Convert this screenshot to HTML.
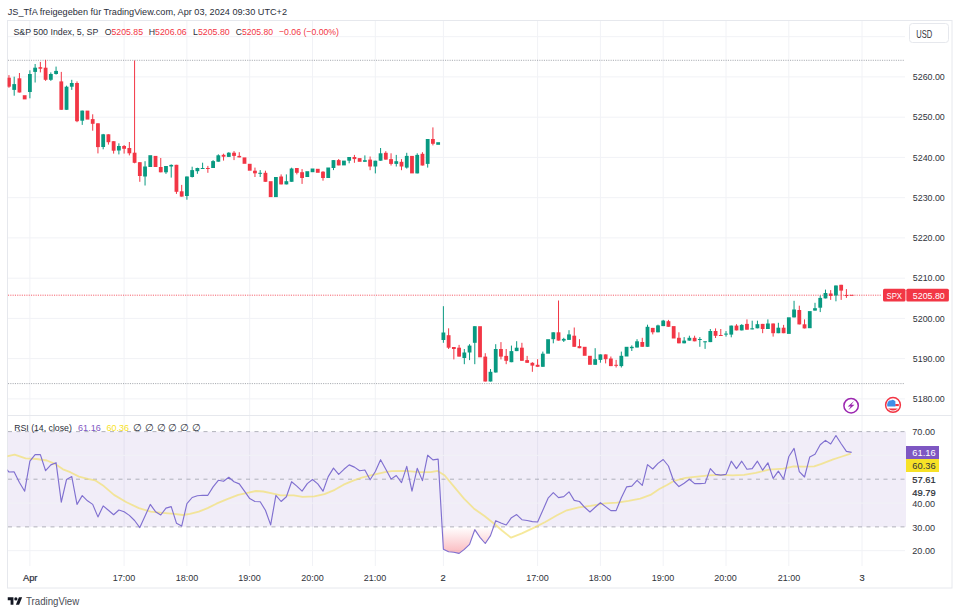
<!DOCTYPE html>
<html><head><meta charset="utf-8"><style>
html,body{margin:0;padding:0;background:#fff;width:960px;height:615px;overflow:hidden;}
svg text{font-family:"Liberation Sans", sans-serif;}
</style></head><body>
<svg width="960" height="615" viewBox="0 0 960 615" style="position:absolute;left:0;top:0">
<defs><linearGradient id="pk" x1="0" y1="527" x2="0" y2="556" gradientUnits="userSpaceOnUse"><stop offset="0" stop-color="#F23645" stop-opacity="0"/><stop offset="1" stop-color="#F23645" stop-opacity="0.38"/></linearGradient>
<clipPath id="cp"><rect x="7.5" y="20.5" width="898" height="545"/></clipPath>
<clipPath id="cpr"><rect x="7.5" y="416" width="898" height="150"/></clipPath>
<clipPath id="cpb"><rect x="7.5" y="527" width="898" height="40"/></clipPath>
</defs>
<rect x="0" y="0" width="960" height="615" fill="#ffffff"/>
<line x1="8" y1="398.9" x2="905" y2="398.9" stroke="#f1f2f6" stroke-width="1"/>
<line x1="8" y1="358.6" x2="905" y2="358.6" stroke="#f1f2f6" stroke-width="1"/>
<line x1="8" y1="318.4" x2="905" y2="318.4" stroke="#f1f2f6" stroke-width="1"/>
<line x1="8" y1="278.2" x2="905" y2="278.2" stroke="#f1f2f6" stroke-width="1"/>
<line x1="8" y1="237.9" x2="905" y2="237.9" stroke="#f1f2f6" stroke-width="1"/>
<line x1="8" y1="197.7" x2="905" y2="197.7" stroke="#f1f2f6" stroke-width="1"/>
<line x1="8" y1="157.4" x2="905" y2="157.4" stroke="#f1f2f6" stroke-width="1"/>
<line x1="8" y1="117.2" x2="905" y2="117.2" stroke="#f1f2f6" stroke-width="1"/>
<line x1="8" y1="76.9" x2="905" y2="76.9" stroke="#f1f2f6" stroke-width="1"/>
<line x1="8" y1="36.7" x2="905" y2="36.7" stroke="#f1f2f6" stroke-width="1"/>
<line x1="29.9" y1="21" x2="29.9" y2="566" stroke="#f1f2f6" stroke-width="1"/>
<line x1="124.1" y1="21" x2="124.1" y2="566" stroke="#f1f2f6" stroke-width="1"/>
<line x1="186.9" y1="21" x2="186.9" y2="566" stroke="#f1f2f6" stroke-width="1"/>
<line x1="249.7" y1="21" x2="249.7" y2="566" stroke="#f1f2f6" stroke-width="1"/>
<line x1="312.5" y1="21" x2="312.5" y2="566" stroke="#f1f2f6" stroke-width="1"/>
<line x1="375.3" y1="21" x2="375.3" y2="566" stroke="#f1f2f6" stroke-width="1"/>
<line x1="443.4" y1="21" x2="443.4" y2="566" stroke="#f1f2f6" stroke-width="1"/>
<line x1="537.6" y1="21" x2="537.6" y2="566" stroke="#f1f2f6" stroke-width="1"/>
<line x1="600.4" y1="21" x2="600.4" y2="566" stroke="#f1f2f6" stroke-width="1"/>
<line x1="663.2" y1="21" x2="663.2" y2="566" stroke="#f1f2f6" stroke-width="1"/>
<line x1="726.0" y1="21" x2="726.0" y2="566" stroke="#f1f2f6" stroke-width="1"/>
<line x1="788.8" y1="21" x2="788.8" y2="566" stroke="#f1f2f6" stroke-width="1"/>
<line x1="862.0" y1="21" x2="862.0" y2="566" stroke="#f1f2f6" stroke-width="1"/>
<rect x="8" y="431.6" width="898" height="95.3" fill="#7E57C2" fill-opacity="0.11"/>
<line x1="8" y1="455.4" x2="905" y2="455.4" stroke="#f1f2f6" stroke-width="1"/>
<line x1="8" y1="503.1" x2="905" y2="503.1" stroke="#f1f2f6" stroke-width="1"/>
<line x1="8" y1="550.7" x2="905" y2="550.7" stroke="#f1f2f6" stroke-width="1"/>
<rect x="7.5" y="20.5" width="944.5" height="567.5" fill="none" stroke="#e6e8ed" stroke-width="1"/>
<line x1="8" y1="415.5" x2="952" y2="415.5" stroke="#e6e8ed" stroke-width="1"/>
<line x1="8" y1="60.3" x2="905" y2="60.3" stroke="#8a8d96" stroke-opacity="0.75" stroke-width="1" stroke-dasharray="1.1 1.2"/>
<line x1="8" y1="383.6" x2="905" y2="383.6" stroke="#8a8d96" stroke-opacity="0.75" stroke-width="1" stroke-dasharray="1.1 1.2"/>
<line x1="8" y1="295.2" x2="882" y2="295.2" stroke="#F23645" stroke-opacity="0.8" stroke-width="1" stroke-dasharray="1.1 1.2"/>
<g clip-path="url(#cp)">
<line x1="8.96" y1="75.1" x2="8.96" y2="87.8" stroke="#F23645" stroke-width="1"/>
<rect x="7.06" y="77.7" width="3.8" height="9.0" fill="#F23645"/>
<line x1="14.20" y1="76.7" x2="14.20" y2="95.7" stroke="#089981" stroke-width="1"/>
<rect x="12.30" y="84.1" width="3.8" height="5.8" fill="#089981"/>
<line x1="19.43" y1="73.0" x2="19.43" y2="92.5" stroke="#F23645" stroke-width="1"/>
<rect x="17.53" y="78.3" width="3.8" height="14.2" fill="#F23645"/>
<rect x="22.77" y="95.2" width="3.8" height="4.2" fill="#F23645"/>
<line x1="29.90" y1="70.3" x2="29.90" y2="98.3" stroke="#089981" stroke-width="1"/>
<rect x="28.00" y="74.0" width="3.8" height="18.0" fill="#089981"/>
<line x1="35.13" y1="64.0" x2="35.13" y2="82.5" stroke="#089981" stroke-width="1"/>
<rect x="33.23" y="67.7" width="3.8" height="4.2" fill="#089981"/>
<line x1="40.37" y1="61.9" x2="40.37" y2="72.4" stroke="#F23645" stroke-width="1"/>
<rect x="38.47" y="67.2" width="3.8" height="1.5" fill="#F23645"/>
<line x1="45.60" y1="59.8" x2="45.60" y2="80.9" stroke="#F23645" stroke-width="1"/>
<rect x="43.70" y="67.7" width="3.8" height="12.1" fill="#F23645"/>
<line x1="50.84" y1="72.4" x2="50.84" y2="80.9" stroke="#089981" stroke-width="1"/>
<rect x="48.94" y="74.0" width="3.8" height="5.8" fill="#089981"/>
<line x1="56.07" y1="66.6" x2="56.07" y2="74.6" stroke="#089981" stroke-width="1"/>
<rect x="54.17" y="70.9" width="3.8" height="3.1" fill="#089981"/>
<line x1="61.30" y1="71.9" x2="61.30" y2="109.8" stroke="#F23645" stroke-width="1"/>
<rect x="59.40" y="81.4" width="3.8" height="28.4" fill="#F23645"/>
<line x1="66.54" y1="85.7" x2="66.54" y2="109.8" stroke="#089981" stroke-width="1"/>
<rect x="64.64" y="86.7" width="3.8" height="23.1" fill="#089981"/>
<line x1="71.77" y1="79.8" x2="71.77" y2="89.9" stroke="#089981" stroke-width="1"/>
<rect x="69.87" y="83.0" width="3.8" height="3.7" fill="#089981"/>
<line x1="77.01" y1="81.4" x2="77.01" y2="122.2" stroke="#F23645" stroke-width="1"/>
<rect x="75.11" y="83.0" width="3.8" height="38.2" fill="#F23645"/>
<line x1="82.24" y1="110.6" x2="82.24" y2="124.9" stroke="#089981" stroke-width="1"/>
<rect x="80.34" y="110.6" width="3.8" height="10.1" fill="#089981"/>
<rect x="85.57" y="110.6" width="3.8" height="9.0" fill="#F23645"/>
<line x1="92.71" y1="114.3" x2="92.71" y2="130.7" stroke="#F23645" stroke-width="1"/>
<rect x="90.81" y="119.1" width="3.8" height="4.7" fill="#F23645"/>
<line x1="97.94" y1="123.3" x2="97.94" y2="153.4" stroke="#F23645" stroke-width="1"/>
<rect x="96.04" y="123.3" width="3.8" height="23.8" fill="#F23645"/>
<line x1="103.18" y1="133.9" x2="103.18" y2="149.3" stroke="#089981" stroke-width="1"/>
<rect x="101.28" y="134.3" width="3.8" height="12.7" fill="#089981"/>
<line x1="108.41" y1="134.3" x2="108.41" y2="144.6" stroke="#F23645" stroke-width="1"/>
<rect x="106.51" y="134.3" width="3.8" height="7.9" fill="#F23645"/>
<line x1="113.64" y1="141.2" x2="113.64" y2="153.6" stroke="#F23645" stroke-width="1"/>
<rect x="111.74" y="141.2" width="3.8" height="9.5" fill="#F23645"/>
<line x1="118.88" y1="143.3" x2="118.88" y2="154.4" stroke="#089981" stroke-width="1"/>
<rect x="116.98" y="146.0" width="3.8" height="4.5" fill="#089981"/>
<line x1="124.11" y1="145.0" x2="124.11" y2="153.6" stroke="#F23645" stroke-width="1"/>
<rect x="122.21" y="146.0" width="3.8" height="2.8" fill="#F23645"/>
<line x1="129.35" y1="142.0" x2="129.35" y2="155.4" stroke="#F23645" stroke-width="1"/>
<rect x="127.45" y="148.0" width="3.8" height="5.3" fill="#F23645"/>
<line x1="134.58" y1="60.5" x2="134.58" y2="163.3" stroke="#F23645" stroke-width="1"/>
<rect x="132.68" y="152.7" width="3.8" height="10.1" fill="#F23645"/>
<line x1="139.81" y1="162.2" x2="139.81" y2="181.8" stroke="#F23645" stroke-width="1"/>
<rect x="137.91" y="162.2" width="3.8" height="13.8" fill="#F23645"/>
<line x1="145.05" y1="161.2" x2="145.05" y2="185.5" stroke="#089981" stroke-width="1"/>
<rect x="143.15" y="166.5" width="3.8" height="10.0" fill="#089981"/>
<rect x="148.38" y="155.2" width="3.8" height="11.8" fill="#089981"/>
<rect x="153.62" y="155.9" width="3.8" height="11.1" fill="#F23645"/>
<line x1="160.75" y1="158.0" x2="160.75" y2="172.3" stroke="#F23645" stroke-width="1"/>
<rect x="158.85" y="167.0" width="3.8" height="5.3" fill="#F23645"/>
<line x1="165.98" y1="166.0" x2="165.98" y2="173.9" stroke="#089981" stroke-width="1"/>
<rect x="164.08" y="166.0" width="3.8" height="6.3" fill="#089981"/>
<line x1="171.22" y1="164.4" x2="171.22" y2="177.6" stroke="#089981" stroke-width="1"/>
<rect x="169.32" y="164.9" width="3.8" height="1.6" fill="#089981"/>
<line x1="176.45" y1="164.8" x2="176.45" y2="193.9" stroke="#F23645" stroke-width="1"/>
<rect x="174.55" y="164.8" width="3.8" height="27.0" fill="#F23645"/>
<line x1="181.69" y1="184.9" x2="181.69" y2="196.6" stroke="#F23645" stroke-width="1"/>
<rect x="179.79" y="191.3" width="3.8" height="5.3" fill="#F23645"/>
<line x1="186.92" y1="176.5" x2="186.92" y2="199.7" stroke="#089981" stroke-width="1"/>
<rect x="185.02" y="176.5" width="3.8" height="19.5" fill="#089981"/>
<line x1="192.15" y1="166.7" x2="192.15" y2="177.5" stroke="#089981" stroke-width="1"/>
<rect x="190.25" y="170.1" width="3.8" height="6.9" fill="#089981"/>
<line x1="197.39" y1="167.7" x2="197.39" y2="173.8" stroke="#089981" stroke-width="1"/>
<rect x="195.49" y="168.0" width="3.8" height="3.2" fill="#089981"/>
<line x1="202.62" y1="162.7" x2="202.62" y2="168.8" stroke="#089981" stroke-width="1"/>
<rect x="200.72" y="168.0" width="3.8" height="1.0" fill="#089981"/>
<line x1="207.86" y1="165.9" x2="207.86" y2="172.8" stroke="#F23645" stroke-width="1"/>
<rect x="205.96" y="168.0" width="3.8" height="1.0" fill="#F23645"/>
<line x1="213.09" y1="160.1" x2="213.09" y2="168.0" stroke="#089981" stroke-width="1"/>
<rect x="211.19" y="161.1" width="3.8" height="6.9" fill="#089981"/>
<line x1="218.32" y1="154.3" x2="218.32" y2="161.7" stroke="#089981" stroke-width="1"/>
<rect x="216.42" y="155.3" width="3.8" height="6.4" fill="#089981"/>
<line x1="223.56" y1="153.7" x2="223.56" y2="160.6" stroke="#F23645" stroke-width="1"/>
<rect x="221.66" y="154.8" width="3.8" height="1.9" fill="#F23645"/>
<line x1="228.79" y1="152.2" x2="228.79" y2="156.9" stroke="#089981" stroke-width="1"/>
<rect x="226.89" y="152.7" width="3.8" height="4.2" fill="#089981"/>
<line x1="234.03" y1="151.1" x2="234.03" y2="160.1" stroke="#F23645" stroke-width="1"/>
<rect x="232.13" y="152.7" width="3.8" height="3.2" fill="#F23645"/>
<line x1="239.26" y1="152.2" x2="239.26" y2="157.4" stroke="#F23645" stroke-width="1"/>
<rect x="237.36" y="155.9" width="3.8" height="1.5" fill="#F23645"/>
<rect x="242.59" y="157.4" width="3.8" height="6.4" fill="#F23645"/>
<rect x="247.83" y="163.8" width="3.8" height="6.9" fill="#F23645"/>
<line x1="254.96" y1="167.6" x2="254.96" y2="177.0" stroke="#F23645" stroke-width="1"/>
<rect x="253.06" y="170.7" width="3.8" height="2.6" fill="#F23645"/>
<line x1="260.20" y1="170.1" x2="260.20" y2="177.0" stroke="#089981" stroke-width="1"/>
<rect x="258.30" y="172.8" width="3.8" height="1.0" fill="#089981"/>
<line x1="265.43" y1="170.7" x2="265.43" y2="181.8" stroke="#F23645" stroke-width="1"/>
<rect x="263.53" y="172.8" width="3.8" height="9.0" fill="#F23645"/>
<rect x="268.76" y="181.2" width="3.8" height="15.9" fill="#F23645"/>
<rect x="274.00" y="177.0" width="3.8" height="20.1" fill="#089981"/>
<line x1="281.13" y1="174.4" x2="281.13" y2="184.4" stroke="#F23645" stroke-width="1"/>
<rect x="279.23" y="176.5" width="3.8" height="7.9" fill="#F23645"/>
<line x1="286.37" y1="174.4" x2="286.37" y2="184.4" stroke="#089981" stroke-width="1"/>
<rect x="284.47" y="181.2" width="3.8" height="3.2" fill="#089981"/>
<line x1="291.60" y1="167.7" x2="291.60" y2="181.8" stroke="#089981" stroke-width="1"/>
<rect x="289.70" y="168.5" width="3.8" height="13.3" fill="#089981"/>
<line x1="296.83" y1="168.0" x2="296.83" y2="174.4" stroke="#F23645" stroke-width="1"/>
<rect x="294.93" y="168.0" width="3.8" height="4.8" fill="#F23645"/>
<line x1="302.07" y1="169.1" x2="302.07" y2="183.9" stroke="#F23645" stroke-width="1"/>
<rect x="300.17" y="172.2" width="3.8" height="5.8" fill="#F23645"/>
<rect x="305.40" y="171.2" width="3.8" height="5.8" fill="#089981"/>
<rect x="310.64" y="168.5" width="3.8" height="3.7" fill="#089981"/>
<rect x="315.87" y="168.8" width="3.8" height="4.0" fill="#F23645"/>
<line x1="323.00" y1="171.2" x2="323.00" y2="180.7" stroke="#F23645" stroke-width="1"/>
<rect x="321.10" y="171.7" width="3.8" height="6.3" fill="#F23645"/>
<rect x="326.34" y="167.5" width="3.8" height="10.5" fill="#089981"/>
<line x1="333.47" y1="160.1" x2="333.47" y2="170.1" stroke="#089981" stroke-width="1"/>
<rect x="331.57" y="160.1" width="3.8" height="7.9" fill="#089981"/>
<line x1="338.71" y1="159.0" x2="338.71" y2="165.4" stroke="#F23645" stroke-width="1"/>
<rect x="336.81" y="160.1" width="3.8" height="5.3" fill="#F23645"/>
<rect x="342.04" y="160.6" width="3.8" height="4.8" fill="#089981"/>
<line x1="349.17" y1="157.0" x2="349.17" y2="163.3" stroke="#089981" stroke-width="1"/>
<rect x="347.27" y="157.0" width="3.8" height="3.7" fill="#089981"/>
<line x1="354.41" y1="154.9" x2="354.41" y2="162.8" stroke="#F23645" stroke-width="1"/>
<rect x="352.51" y="157.0" width="3.8" height="2.1" fill="#F23645"/>
<rect x="357.74" y="158.1" width="3.8" height="3.7" fill="#F23645"/>
<line x1="364.88" y1="155.4" x2="364.88" y2="161.8" stroke="#089981" stroke-width="1"/>
<rect x="362.98" y="160.2" width="3.8" height="1.6" fill="#089981"/>
<line x1="370.11" y1="156.5" x2="370.11" y2="170.2" stroke="#F23645" stroke-width="1"/>
<rect x="368.21" y="159.6" width="3.8" height="6.9" fill="#F23645"/>
<line x1="375.34" y1="160.7" x2="375.34" y2="173.4" stroke="#089981" stroke-width="1"/>
<rect x="373.44" y="160.7" width="3.8" height="5.8" fill="#089981"/>
<line x1="380.58" y1="148.0" x2="380.58" y2="160.7" stroke="#089981" stroke-width="1"/>
<rect x="378.68" y="153.3" width="3.8" height="7.4" fill="#089981"/>
<line x1="385.81" y1="151.2" x2="385.81" y2="159.6" stroke="#F23645" stroke-width="1"/>
<rect x="383.91" y="152.8" width="3.8" height="6.8" fill="#F23645"/>
<line x1="391.05" y1="153.3" x2="391.05" y2="165.5" stroke="#F23645" stroke-width="1"/>
<rect x="389.15" y="159.1" width="3.8" height="4.8" fill="#F23645"/>
<line x1="396.28" y1="154.9" x2="396.28" y2="166.5" stroke="#089981" stroke-width="1"/>
<rect x="394.38" y="161.2" width="3.8" height="2.7" fill="#089981"/>
<line x1="401.51" y1="159.1" x2="401.51" y2="170.2" stroke="#F23645" stroke-width="1"/>
<rect x="399.61" y="161.8" width="3.8" height="4.7" fill="#F23645"/>
<line x1="406.75" y1="152.8" x2="406.75" y2="168.6" stroke="#089981" stroke-width="1"/>
<rect x="404.85" y="155.9" width="3.8" height="11.7" fill="#089981"/>
<rect x="410.08" y="155.9" width="3.8" height="17.5" fill="#F23645"/>
<line x1="417.22" y1="153.3" x2="417.22" y2="173.4" stroke="#089981" stroke-width="1"/>
<rect x="415.32" y="154.9" width="3.8" height="18.5" fill="#089981"/>
<line x1="422.45" y1="152.2" x2="422.45" y2="165.5" stroke="#F23645" stroke-width="1"/>
<rect x="420.55" y="153.8" width="3.8" height="11.7" fill="#F23645"/>
<line x1="427.68" y1="139.0" x2="427.68" y2="167.6" stroke="#089981" stroke-width="1"/>
<rect x="425.78" y="139.0" width="3.8" height="24.9" fill="#089981"/>
<line x1="432.92" y1="127.4" x2="432.92" y2="145.4" stroke="#F23645" stroke-width="1"/>
<rect x="431.02" y="139.0" width="3.8" height="4.8" fill="#F23645"/>
<rect x="436.25" y="142.2" width="3.8" height="2.6" fill="#089981"/>
<line x1="443.39" y1="306.2" x2="443.39" y2="342.8" stroke="#089981" stroke-width="1"/>
<rect x="441.49" y="332.5" width="3.8" height="7.5" fill="#089981"/>
<line x1="448.62" y1="328.3" x2="448.62" y2="349.0" stroke="#F23645" stroke-width="1"/>
<rect x="446.72" y="335.2" width="3.8" height="12.5" fill="#F23645"/>
<line x1="453.85" y1="347.0" x2="453.85" y2="359.4" stroke="#F23645" stroke-width="1"/>
<rect x="451.95" y="347.0" width="3.8" height="2.0" fill="#F23645"/>
<line x1="459.09" y1="344.9" x2="459.09" y2="356.6" stroke="#F23645" stroke-width="1"/>
<rect x="457.19" y="347.7" width="3.8" height="8.9" fill="#F23645"/>
<line x1="464.32" y1="349.0" x2="464.32" y2="364.2" stroke="#089981" stroke-width="1"/>
<rect x="462.42" y="352.5" width="3.8" height="5.5" fill="#089981"/>
<line x1="469.56" y1="344.2" x2="469.56" y2="360.1" stroke="#089981" stroke-width="1"/>
<rect x="467.66" y="345.6" width="3.8" height="6.9" fill="#089981"/>
<line x1="474.79" y1="326.2" x2="474.79" y2="364.2" stroke="#089981" stroke-width="1"/>
<rect x="472.89" y="326.2" width="3.8" height="16.6" fill="#089981"/>
<rect x="478.12" y="326.2" width="3.8" height="31.1" fill="#F23645"/>
<line x1="485.26" y1="353.2" x2="485.26" y2="381.5" stroke="#F23645" stroke-width="1"/>
<rect x="483.36" y="356.6" width="3.8" height="24.9" fill="#F23645"/>
<line x1="490.49" y1="369.0" x2="490.49" y2="381.5" stroke="#089981" stroke-width="1"/>
<rect x="488.59" y="371.8" width="3.8" height="9.7" fill="#089981"/>
<line x1="495.73" y1="344.2" x2="495.73" y2="372.5" stroke="#089981" stroke-width="1"/>
<rect x="493.83" y="349.0" width="3.8" height="23.5" fill="#089981"/>
<line x1="500.96" y1="342.1" x2="500.96" y2="359.4" stroke="#F23645" stroke-width="1"/>
<rect x="499.06" y="349.0" width="3.8" height="7.6" fill="#F23645"/>
<line x1="506.19" y1="349.0" x2="506.19" y2="364.2" stroke="#F23645" stroke-width="1"/>
<rect x="504.29" y="355.9" width="3.8" height="4.9" fill="#F23645"/>
<line x1="511.43" y1="345.6" x2="511.43" y2="362.2" stroke="#089981" stroke-width="1"/>
<rect x="509.53" y="351.1" width="3.8" height="11.1" fill="#089981"/>
<line x1="516.66" y1="341.2" x2="516.66" y2="351.1" stroke="#089981" stroke-width="1"/>
<rect x="514.76" y="347.7" width="3.8" height="3.4" fill="#089981"/>
<line x1="521.90" y1="342.8" x2="521.90" y2="360.8" stroke="#F23645" stroke-width="1"/>
<rect x="520.00" y="347.7" width="3.8" height="13.1" fill="#F23645"/>
<line x1="527.13" y1="355.9" x2="527.13" y2="362.8" stroke="#F23645" stroke-width="1"/>
<rect x="525.23" y="360.1" width="3.8" height="2.7" fill="#F23645"/>
<line x1="532.36" y1="362.2" x2="532.36" y2="371.8" stroke="#F23645" stroke-width="1"/>
<rect x="530.46" y="362.8" width="3.8" height="2.8" fill="#F23645"/>
<line x1="537.60" y1="359.2" x2="537.60" y2="366.8" stroke="#F23645" stroke-width="1"/>
<rect x="535.70" y="364.8" width="3.8" height="2.0" fill="#F23645"/>
<line x1="542.83" y1="351.6" x2="542.83" y2="366.8" stroke="#089981" stroke-width="1"/>
<rect x="540.93" y="353.7" width="3.8" height="13.1" fill="#089981"/>
<rect x="546.17" y="339.2" width="3.8" height="14.5" fill="#089981"/>
<line x1="553.30" y1="332.3" x2="553.30" y2="343.3" stroke="#089981" stroke-width="1"/>
<rect x="551.40" y="332.3" width="3.8" height="6.9" fill="#089981"/>
<line x1="558.53" y1="300.5" x2="558.53" y2="340.6" stroke="#F23645" stroke-width="1"/>
<rect x="556.63" y="332.3" width="3.8" height="8.3" fill="#F23645"/>
<line x1="563.77" y1="337.8" x2="563.77" y2="342.0" stroke="#089981" stroke-width="1"/>
<rect x="561.87" y="338.9" width="3.8" height="1.7" fill="#089981"/>
<line x1="569.00" y1="330.2" x2="569.00" y2="339.9" stroke="#089981" stroke-width="1"/>
<rect x="567.10" y="334.4" width="3.8" height="5.5" fill="#089981"/>
<line x1="574.24" y1="327.5" x2="574.24" y2="346.8" stroke="#F23645" stroke-width="1"/>
<rect x="572.34" y="335.7" width="3.8" height="11.1" fill="#F23645"/>
<line x1="579.47" y1="339.2" x2="579.47" y2="348.2" stroke="#F23645" stroke-width="1"/>
<rect x="577.57" y="346.1" width="3.8" height="2.1" fill="#F23645"/>
<rect x="582.80" y="346.8" width="3.8" height="9.0" fill="#F23645"/>
<rect x="588.04" y="355.8" width="3.8" height="9.0" fill="#F23645"/>
<line x1="595.17" y1="348.2" x2="595.17" y2="364.8" stroke="#089981" stroke-width="1"/>
<rect x="593.27" y="359.2" width="3.8" height="5.6" fill="#089981"/>
<line x1="600.41" y1="354.4" x2="600.41" y2="362.7" stroke="#089981" stroke-width="1"/>
<rect x="598.51" y="354.4" width="3.8" height="5.5" fill="#089981"/>
<line x1="605.64" y1="354.4" x2="605.64" y2="363.4" stroke="#F23645" stroke-width="1"/>
<rect x="603.74" y="354.4" width="3.8" height="4.8" fill="#F23645"/>
<line x1="610.87" y1="356.5" x2="610.87" y2="366.1" stroke="#F23645" stroke-width="1"/>
<rect x="608.97" y="358.5" width="3.8" height="7.6" fill="#F23645"/>
<line x1="616.11" y1="359.9" x2="616.11" y2="367.5" stroke="#F23645" stroke-width="1"/>
<rect x="614.21" y="364.8" width="3.8" height="1.0" fill="#F23645"/>
<line x1="621.34" y1="351.6" x2="621.34" y2="367.5" stroke="#089981" stroke-width="1"/>
<rect x="619.44" y="355.8" width="3.8" height="10.3" fill="#089981"/>
<rect x="624.68" y="346.8" width="3.8" height="9.7" fill="#089981"/>
<line x1="631.81" y1="345.4" x2="631.81" y2="351.0" stroke="#089981" stroke-width="1"/>
<rect x="629.91" y="346.8" width="3.8" height="1.4" fill="#089981"/>
<line x1="637.04" y1="339.2" x2="637.04" y2="347.5" stroke="#089981" stroke-width="1"/>
<rect x="635.14" y="341.3" width="3.8" height="6.2" fill="#089981"/>
<line x1="642.28" y1="337.8" x2="642.28" y2="346.8" stroke="#F23645" stroke-width="1"/>
<rect x="640.38" y="342.0" width="3.8" height="4.8" fill="#F23645"/>
<line x1="647.51" y1="324.7" x2="647.51" y2="346.8" stroke="#089981" stroke-width="1"/>
<rect x="645.61" y="326.8" width="3.8" height="20.0" fill="#089981"/>
<line x1="652.75" y1="327.9" x2="652.75" y2="334.4" stroke="#F23645" stroke-width="1"/>
<rect x="650.85" y="327.9" width="3.8" height="4.4" fill="#F23645"/>
<line x1="657.98" y1="324.7" x2="657.98" y2="332.3" stroke="#089981" stroke-width="1"/>
<rect x="656.08" y="325.4" width="3.8" height="6.9" fill="#089981"/>
<line x1="663.21" y1="319.9" x2="663.21" y2="326.1" stroke="#089981" stroke-width="1"/>
<rect x="661.31" y="320.6" width="3.8" height="5.5" fill="#089981"/>
<line x1="668.45" y1="319.9" x2="668.45" y2="326.8" stroke="#F23645" stroke-width="1"/>
<rect x="666.55" y="321.2" width="3.8" height="5.6" fill="#F23645"/>
<rect x="671.78" y="326.1" width="3.8" height="12.4" fill="#F23645"/>
<line x1="678.92" y1="332.3" x2="678.92" y2="343.3" stroke="#F23645" stroke-width="1"/>
<rect x="677.02" y="337.8" width="3.8" height="5.5" fill="#F23645"/>
<line x1="684.15" y1="337.1" x2="684.15" y2="343.3" stroke="#089981" stroke-width="1"/>
<rect x="682.25" y="340.6" width="3.8" height="2.7" fill="#089981"/>
<line x1="689.38" y1="335.7" x2="689.38" y2="340.6" stroke="#089981" stroke-width="1"/>
<rect x="687.48" y="337.8" width="3.8" height="2.8" fill="#089981"/>
<line x1="694.62" y1="335.7" x2="694.62" y2="341.3" stroke="#F23645" stroke-width="1"/>
<rect x="692.72" y="337.8" width="3.8" height="3.5" fill="#F23645"/>
<line x1="699.85" y1="337.1" x2="699.85" y2="346.8" stroke="#089981" stroke-width="1"/>
<rect x="697.95" y="339.0" width="3.8" height="1.0" fill="#089981"/>
<line x1="705.09" y1="341.3" x2="705.09" y2="348.9" stroke="#089981" stroke-width="1"/>
<rect x="703.19" y="341.3" width="3.8" height="1.0" fill="#089981"/>
<line x1="710.32" y1="329.0" x2="710.32" y2="342.1" stroke="#089981" stroke-width="1"/>
<rect x="708.42" y="331.0" width="3.8" height="11.1" fill="#089981"/>
<line x1="715.55" y1="328.4" x2="715.55" y2="338.0" stroke="#F23645" stroke-width="1"/>
<rect x="713.65" y="331.0" width="3.8" height="4.8" fill="#F23645"/>
<line x1="720.79" y1="329.0" x2="720.79" y2="335.7" stroke="#F23645" stroke-width="1"/>
<rect x="718.89" y="335.0" width="3.8" height="1.0" fill="#F23645"/>
<line x1="726.02" y1="331.1" x2="726.02" y2="336.6" stroke="#089981" stroke-width="1"/>
<rect x="724.12" y="333.6" width="3.8" height="1.0" fill="#089981"/>
<line x1="731.26" y1="325.6" x2="731.26" y2="337.3" stroke="#089981" stroke-width="1"/>
<rect x="729.36" y="325.6" width="3.8" height="9.0" fill="#089981"/>
<line x1="736.49" y1="324.2" x2="736.49" y2="330.4" stroke="#F23645" stroke-width="1"/>
<rect x="734.59" y="325.6" width="3.8" height="4.8" fill="#F23645"/>
<line x1="741.72" y1="324.2" x2="741.72" y2="330.4" stroke="#089981" stroke-width="1"/>
<rect x="739.82" y="324.9" width="3.8" height="5.5" fill="#089981"/>
<line x1="746.96" y1="319.4" x2="746.96" y2="329.7" stroke="#F23645" stroke-width="1"/>
<rect x="745.06" y="323.9" width="3.8" height="5.8" fill="#F23645"/>
<line x1="752.19" y1="320.7" x2="752.19" y2="329.4" stroke="#089981" stroke-width="1"/>
<rect x="750.29" y="328.3" width="3.8" height="1.1" fill="#089981"/>
<line x1="757.43" y1="320.7" x2="757.43" y2="328.3" stroke="#089981" stroke-width="1"/>
<rect x="755.53" y="324.2" width="3.8" height="4.1" fill="#089981"/>
<line x1="762.66" y1="323.9" x2="762.66" y2="333.2" stroke="#F23645" stroke-width="1"/>
<rect x="760.76" y="323.9" width="3.8" height="5.1" fill="#F23645"/>
<line x1="767.89" y1="319.4" x2="767.89" y2="329.0" stroke="#089981" stroke-width="1"/>
<rect x="765.99" y="323.5" width="3.8" height="5.5" fill="#089981"/>
<line x1="773.13" y1="323.5" x2="773.13" y2="336.6" stroke="#F23645" stroke-width="1"/>
<rect x="771.23" y="323.5" width="3.8" height="9.7" fill="#F23645"/>
<line x1="778.36" y1="322.8" x2="778.36" y2="333.2" stroke="#089981" stroke-width="1"/>
<rect x="776.46" y="327.7" width="3.8" height="5.5" fill="#089981"/>
<line x1="783.60" y1="324.9" x2="783.60" y2="333.2" stroke="#F23645" stroke-width="1"/>
<rect x="781.70" y="327.7" width="3.8" height="5.5" fill="#F23645"/>
<rect x="786.93" y="317.3" width="3.8" height="16.6" fill="#089981"/>
<line x1="794.06" y1="300.8" x2="794.06" y2="317.4" stroke="#089981" stroke-width="1"/>
<rect x="792.16" y="309.5" width="3.8" height="7.9" fill="#089981"/>
<line x1="799.30" y1="305.7" x2="799.30" y2="324.4" stroke="#F23645" stroke-width="1"/>
<rect x="797.40" y="310.0" width="3.8" height="14.4" fill="#F23645"/>
<line x1="804.53" y1="319.4" x2="804.53" y2="328.4" stroke="#F23645" stroke-width="1"/>
<rect x="802.63" y="324.3" width="3.8" height="4.1" fill="#F23645"/>
<rect x="807.87" y="311.1" width="3.8" height="17.1" fill="#089981"/>
<line x1="815.00" y1="302.8" x2="815.00" y2="310.6" stroke="#089981" stroke-width="1"/>
<rect x="813.10" y="308.2" width="3.8" height="2.4" fill="#089981"/>
<line x1="820.23" y1="295.5" x2="820.23" y2="312.1" stroke="#089981" stroke-width="1"/>
<rect x="818.33" y="297.9" width="3.8" height="9.8" fill="#089981"/>
<line x1="825.47" y1="289.6" x2="825.47" y2="298.4" stroke="#089981" stroke-width="1"/>
<rect x="823.57" y="293.0" width="3.8" height="5.4" fill="#089981"/>
<line x1="830.70" y1="290.1" x2="830.70" y2="299.9" stroke="#F23645" stroke-width="1"/>
<rect x="828.80" y="293.5" width="3.8" height="2.5" fill="#F23645"/>
<line x1="835.94" y1="285.5" x2="835.94" y2="301.3" stroke="#089981" stroke-width="1"/>
<rect x="834.04" y="285.5" width="3.8" height="10.0" fill="#089981"/>
<line x1="841.17" y1="284.8" x2="841.17" y2="299.9" stroke="#F23645" stroke-width="1"/>
<rect x="839.27" y="284.8" width="3.8" height="5.8" fill="#F23645"/>
<line x1="846.40" y1="289.1" x2="846.40" y2="297.9" stroke="#F23645" stroke-width="1"/>
<rect x="844.50" y="295.0" width="3.8" height="1.0" fill="#F23645"/>
<rect x="849.74" y="294.8" width="3.8" height="1.0" fill="#F23645"/>
</g>
<line x1="8" y1="431.6" x2="906" y2="431.6" stroke="#787B86" stroke-opacity="0.55" stroke-width="1" stroke-dasharray="4 4.5"/>
<line x1="8" y1="479.2" x2="906" y2="479.2" stroke="#787B86" stroke-opacity="0.55" stroke-width="1" stroke-dasharray="4 4.5"/>
<line x1="8" y1="526.9" x2="906" y2="526.9" stroke="#787B86" stroke-opacity="0.55" stroke-width="1" stroke-dasharray="4 4.5"/>
<g clip-path="url(#cpb)">
<polygon points="432.92,527 432.92,459.90 438.15,459.10 443.39,549.20 448.62,551.80 453.85,552.30 459.09,553.40 464.32,549.40 469.56,544.40 474.79,529.70 480.02,537.30 485.26,543.50 490.49,535.60 495.73,520.70 495.73,527" fill="url(#pk)"/>
</g>
<g clip-path="url(#cpr)">
<polyline points="3.00,457.00 8.00,456.10 14.60,454.60 25.60,458.30 36.60,459.00 46.90,460.50 55.60,464.20 63.00,469.30 70.30,472.20 79.00,476.60 87.80,478.80 95.00,480.30 103.80,486.10 114.00,494.90 126.50,502.20 138.90,508.10 150.60,511.70 162.40,512.90 174.10,513.90 182.80,515.00 190.00,513.90 198.80,511.70 207.60,508.10 216.40,503.70 226.60,499.30 238.30,494.90 248.60,492.70 255.90,491.00 263.20,491.50 272.00,493.40 280.80,495.30 293.80,495.30 302.60,496.80 314.30,496.40 324.50,494.20 334.80,489.80 343.60,484.70 353.80,480.30 362.60,477.30 372.80,474.80 385.00,472.20 391.70,471.20 405.40,470.90 419.00,472.20 430.80,472.20 437.60,470.90 444.50,475.20 454.20,486.90 464.00,498.60 473.75,508.40 484.80,516.20 494.50,524.00 502.30,530.80 511.10,537.70 521.90,533.40 533.60,527.90 545.30,522.00 557.00,515.20 566.80,510.30 578.80,507.30 590.50,505.90 605.10,503.30 616.90,502.70 628.60,500.80 640.30,498.60 650.50,494.90 659.30,489.00 667.00,485.00 673.80,481.00 685.50,477.80 697.20,476.60 708.90,475.40 720.60,474.80 732.30,475.40 744.00,474.80 755.80,472.90 768.80,469.70 783.40,468.60 793.70,466.30 803.90,466.70 814.20,466.30 821.50,463.80 833.20,459.40 842.00,456.50 850.80,453.60" fill="none" stroke="#F2E070" stroke-opacity="0.7" stroke-width="1.8" stroke-linejoin="round"/>
<polyline points="3.73,466.00 8.96,472.00 14.20,471.90 19.43,482.50 24.67,491.20 29.90,461.20 35.13,454.60 40.37,454.60 45.60,470.70 50.84,464.90 56.07,462.70 61.30,502.20 66.54,479.50 71.77,476.60 77.01,504.40 82.24,495.60 87.47,500.80 92.71,504.40 97.94,516.90 103.18,505.90 108.41,510.30 113.64,514.70 118.88,510.00 124.11,511.70 129.35,515.40 134.58,520.50 139.81,527.60 145.05,516.10 150.28,504.40 155.52,511.70 160.75,515.00 165.98,508.10 171.22,506.60 176.45,523.20 181.69,526.10 186.92,503.70 192.15,497.50 197.39,495.80 202.62,495.30 207.86,495.30 213.09,486.90 218.32,480.30 223.56,481.30 228.79,477.30 234.03,481.70 239.26,483.90 244.49,491.20 249.73,498.60 254.96,501.50 260.20,501.80 265.43,510.30 270.66,524.90 275.90,495.30 281.13,501.50 286.37,496.80 291.60,481.70 296.83,486.10 302.07,491.20 307.30,483.60 312.54,479.50 317.77,483.90 323.00,491.20 328.24,476.60 333.47,468.10 338.71,474.40 343.94,469.30 349.17,464.90 354.41,467.10 359.64,470.70 364.88,470.00 370.11,479.80 375.34,471.50 380.58,459.70 385.81,469.30 391.05,479.10 396.28,475.50 401.51,482.60 406.75,466.40 411.98,491.20 417.22,468.30 422.45,480.60 427.68,455.20 432.92,459.90 438.15,459.10 443.39,549.20 448.62,551.80 453.85,552.30 459.09,553.40 464.32,549.40 469.56,544.40 474.79,529.70 480.02,537.30 485.26,543.50 490.49,535.60 495.73,520.70 500.96,523.00 506.19,525.00 511.43,517.70 516.66,514.60 521.90,519.70 527.13,520.50 532.36,521.60 537.60,522.00 542.83,510.30 548.07,498.20 553.30,492.70 558.53,497.60 563.77,496.60 569.00,491.80 574.24,500.40 579.47,501.50 584.70,507.30 589.94,512.00 595.17,507.30 600.41,502.70 605.64,506.60 610.87,510.60 616.11,510.60 621.34,497.80 626.58,486.90 631.81,486.10 637.04,480.30 642.28,485.40 647.51,464.60 652.75,469.00 657.98,463.40 663.21,459.50 668.45,466.00 673.68,481.00 678.92,486.60 684.15,483.20 689.38,479.20 694.62,483.60 699.85,483.60 705.09,483.20 710.32,468.60 715.55,474.40 720.79,475.10 726.02,474.40 731.26,461.20 736.49,468.60 741.72,461.20 746.96,469.30 752.19,468.60 757.43,461.20 762.66,470.20 767.89,462.80 773.13,478.40 778.36,471.10 783.60,479.20 788.83,456.50 794.06,448.40 799.30,471.60 804.53,477.00 809.77,456.90 815.00,454.30 820.23,444.80 825.47,440.40 830.70,444.00 835.94,435.50 841.17,443.70 846.40,451.40 851.64,452.40" fill="none" stroke="#8070D0" stroke-width="1.15" stroke-linejoin="round"/>
</g>
<text x="7.80" y="14.60" font-size="9.3" font-weight="normal" fill="#2a2e39" textLength="279.20" lengthAdjust="spacingAndGlyphs" >JS_TfA freigegeben für TradingView.com, Apr 03, 2024 09:30 UTC+2</text>
<text x="13.50" y="35.40" font-size="9.3" font-weight="normal" fill="#2a2e39" textLength="84.80" lengthAdjust="spacingAndGlyphs" >S&amp;P 500 Index, 5, SP</text>
<text x="104.70" y="35.4" font-size="9.3" fill="#2a2e39" textLength="38.30" lengthAdjust="spacingAndGlyphs">O<tspan fill="#F23645">5205.85</tspan></text>
<text x="148.80" y="35.4" font-size="9.3" fill="#2a2e39" textLength="37.90" lengthAdjust="spacingAndGlyphs">H<tspan fill="#F23645">5206.06</tspan></text>
<text x="193.00" y="35.4" font-size="9.3" fill="#2a2e39" textLength="36.70" lengthAdjust="spacingAndGlyphs">L<tspan fill="#F23645">5205.80</tspan></text>
<text x="235.80" y="35.4" font-size="9.3" fill="#2a2e39" textLength="37.20" lengthAdjust="spacingAndGlyphs">C<tspan fill="#F23645">5205.80</tspan></text>
<text x="279.00" y="35.40" font-size="9.3" font-weight="normal" fill="#F23645" textLength="60.00" lengthAdjust="spacingAndGlyphs" >−0.06 (−0.00%)</text>
<rect x="909.5" y="23.5" width="39" height="19" rx="3" fill="#fff" stroke="#e6e8ed" stroke-width="1"/>
<text x="916.20" y="38.00" font-size="10.2" font-weight="normal" fill="#30333b" textLength="16.00" lengthAdjust="spacingAndGlyphs" >USD</text>
<text x="912.80" y="402.20" font-size="9.4" font-weight="normal" fill="#30333b" textLength="32.00" lengthAdjust="spacingAndGlyphs" >5180.00</text>
<text x="912.80" y="361.95" font-size="9.4" font-weight="normal" fill="#30333b" textLength="32.00" lengthAdjust="spacingAndGlyphs" >5190.00</text>
<text x="912.80" y="321.70" font-size="9.4" font-weight="normal" fill="#30333b" textLength="32.00" lengthAdjust="spacingAndGlyphs" >5200.00</text>
<text x="912.80" y="281.45" font-size="9.4" font-weight="normal" fill="#30333b" textLength="32.00" lengthAdjust="spacingAndGlyphs" >5210.00</text>
<text x="912.80" y="241.20" font-size="9.4" font-weight="normal" fill="#30333b" textLength="32.00" lengthAdjust="spacingAndGlyphs" >5220.00</text>
<text x="912.80" y="200.95" font-size="9.4" font-weight="normal" fill="#30333b" textLength="32.00" lengthAdjust="spacingAndGlyphs" >5230.00</text>
<text x="912.80" y="160.70" font-size="9.4" font-weight="normal" fill="#30333b" textLength="32.00" lengthAdjust="spacingAndGlyphs" >5240.00</text>
<text x="912.80" y="120.45" font-size="9.4" font-weight="normal" fill="#30333b" textLength="32.00" lengthAdjust="spacingAndGlyphs" >5250.00</text>
<text x="912.80" y="80.20" font-size="9.4" font-weight="normal" fill="#30333b" textLength="32.00" lengthAdjust="spacingAndGlyphs" >5260.00</text>
<rect x="883" y="288.8" width="22.5" height="12.6" rx="1.5" fill="#F23645"/>
<rect x="906.3" y="288.8" width="42.6" height="12.6" rx="1.5" fill="#F23645"/>
<text x="886.50" y="298.60" font-size="9.4" font-weight="normal" fill="#ffffff" textLength="15.50" lengthAdjust="spacingAndGlyphs" >SPX</text>
<text x="912.80" y="298.60" font-size="9.4" font-weight="normal" fill="#ffffff" textLength="32.00" lengthAdjust="spacingAndGlyphs" >5205.80</text>
<text x="912.30" y="435.20" font-size="9.4" font-weight="normal" fill="#30333b" textLength="22.70" lengthAdjust="spacingAndGlyphs" >70.00</text>
<rect x="906" y="446" width="33" height="13" fill="#7E57C2"/>
<text x="912.30" y="456.20" font-size="9.4" font-weight="normal" fill="#ffffff" textLength="23.40" lengthAdjust="spacingAndGlyphs" >61.16</text>
<rect x="906" y="459" width="33" height="13" fill="#F7E227"/>
<text x="912.30" y="469.20" font-size="9.4" font-weight="normal" fill="#30333b" textLength="23.40" lengthAdjust="spacingAndGlyphs" >60.36</text>
<text x="912.30" y="483.00" font-size="9.4" font-weight="normal" fill="#30333b" textLength="23.40" lengthAdjust="spacingAndGlyphs" stroke="#131722" stroke-width="0.2">57.61</text>
<text x="912.30" y="495.50" font-size="9.4" font-weight="normal" fill="#30333b" textLength="23.40" lengthAdjust="spacingAndGlyphs" stroke="#131722" stroke-width="0.2">49.79</text>
<text x="912.30" y="507.20" font-size="9.4" font-weight="normal" fill="#30333b" textLength="22.70" lengthAdjust="spacingAndGlyphs" >40.00</text>
<text x="912.30" y="530.60" font-size="9.4" font-weight="normal" fill="#30333b" textLength="22.70" lengthAdjust="spacingAndGlyphs" >30.00</text>
<text x="912.30" y="554.20" font-size="9.4" font-weight="normal" fill="#30333b" textLength="22.70" lengthAdjust="spacingAndGlyphs" >20.00</text>
<text x="14.20" y="431.20" font-size="9.5" font-weight="normal" fill="#2a2e39" textLength="57.60" lengthAdjust="spacingAndGlyphs" >RSI (14, close)</text>
<text x="78.10" y="431.20" font-size="9.5" font-weight="normal" fill="#7E57C2" textLength="22.60" lengthAdjust="spacingAndGlyphs" >61.16</text>
<text x="106.60" y="431.20" font-size="9.5" font-weight="normal" fill="#F7E227" textLength="22.50" lengthAdjust="spacingAndGlyphs" >60.36</text>
<text x="137.2" y="431.2" font-size="9.5" fill="#2a2e39" text-anchor="middle">∅</text>
<text x="149.5" y="431.2" font-size="9.5" fill="#2a2e39" text-anchor="middle">∅</text>
<text x="161.3" y="431.2" font-size="9.5" fill="#2a2e39" text-anchor="middle">∅</text>
<text x="172.9" y="431.2" font-size="9.5" fill="#2a2e39" text-anchor="middle">∅</text>
<text x="184.5" y="431.2" font-size="9.5" fill="#2a2e39" text-anchor="middle">∅</text>
<text x="196.5" y="431.2" font-size="9.5" fill="#2a2e39" text-anchor="middle">∅</text>
<text x="22.90" y="580.50" font-size="9.3" font-weight="normal" fill="#2a2e39" textLength="14.60" lengthAdjust="spacingAndGlyphs" stroke="#2a2e39" stroke-width="0.2">Apr</text>
<text x="112.75" y="580.70" font-size="9.3" font-weight="normal" fill="#30333b" textLength="22.50" lengthAdjust="spacingAndGlyphs" >17:00</text>
<text x="175.75" y="580.70" font-size="9.3" font-weight="normal" fill="#30333b" textLength="22.50" lengthAdjust="spacingAndGlyphs" >18:00</text>
<text x="238.25" y="580.70" font-size="9.3" font-weight="normal" fill="#30333b" textLength="22.50" lengthAdjust="spacingAndGlyphs" >19:00</text>
<text x="301.25" y="580.70" font-size="9.3" font-weight="normal" fill="#30333b" textLength="22.50" lengthAdjust="spacingAndGlyphs" >20:00</text>
<text x="363.75" y="580.70" font-size="9.3" font-weight="normal" fill="#30333b" textLength="22.50" lengthAdjust="spacingAndGlyphs" >21:00</text>
<text x="443.2" y="580.7" font-size="9.3" fill="#30333b" stroke="#30333b" stroke-width="0.15" text-anchor="middle">2</text>
<text x="526.25" y="580.70" font-size="9.3" font-weight="normal" fill="#30333b" textLength="22.50" lengthAdjust="spacingAndGlyphs" >17:00</text>
<text x="588.75" y="580.70" font-size="9.3" font-weight="normal" fill="#30333b" textLength="22.50" lengthAdjust="spacingAndGlyphs" >18:00</text>
<text x="651.75" y="580.70" font-size="9.3" font-weight="normal" fill="#30333b" textLength="22.50" lengthAdjust="spacingAndGlyphs" >19:00</text>
<text x="714.25" y="580.70" font-size="9.3" font-weight="normal" fill="#30333b" textLength="22.50" lengthAdjust="spacingAndGlyphs" >20:00</text>
<text x="777.75" y="580.70" font-size="9.3" font-weight="normal" fill="#30333b" textLength="22.50" lengthAdjust="spacingAndGlyphs" >21:00</text>
<text x="862.0" y="580.7" font-size="9.3" fill="#30333b" stroke="#30333b" stroke-width="0.15" text-anchor="middle">3</text>
<g transform="translate(851.1,405.7)"><circle r="7.2" fill="#fff" stroke="#9C27B0" stroke-width="1.5"/><path d="M2.9,-4.8 L-3.4,0.8 L-0.3,0.8 L-2.8,4.6 L3.4,-1 L0.3,-1 Z" fill="#9C27B0"/></g>
<g transform="translate(893,404.9)"><circle r="7.4" fill="#fff" stroke="#F23645" stroke-width="1.5"/><clipPath id="fc"><circle r="5.9"/></clipPath><g clip-path="url(#fc)"><rect x="-6" y="-6" width="12" height="12" fill="#fff"/><rect x="2.2" y="-0.9" width="4" height="2.1" fill="#F23645"/><rect x="-6" y="3.6" width="12" height="2.2" fill="#F23645"/><path d="M-6,1.6 L-6,-3 Q-4,-5.2 -2,-4.4 Q0,-6.2 2.4,-3.6 L2.4,1.6 Z" fill="#3F8FE8"/></g></g>
<g transform="translate(7.75,595.7) scale(0.406)" fill="#131722"><path d="M14 22H7V11H0V4h14v18zM28 22h-8l7.5-18h8L28 22z"/><circle cx="20" cy="8" r="4"/></g>
<text x="26.00" y="604.80" font-size="10" font-weight="normal" fill="#4a4d55" textLength="53.20" lengthAdjust="spacingAndGlyphs" >TradingView</text>
</svg>
</body></html>
